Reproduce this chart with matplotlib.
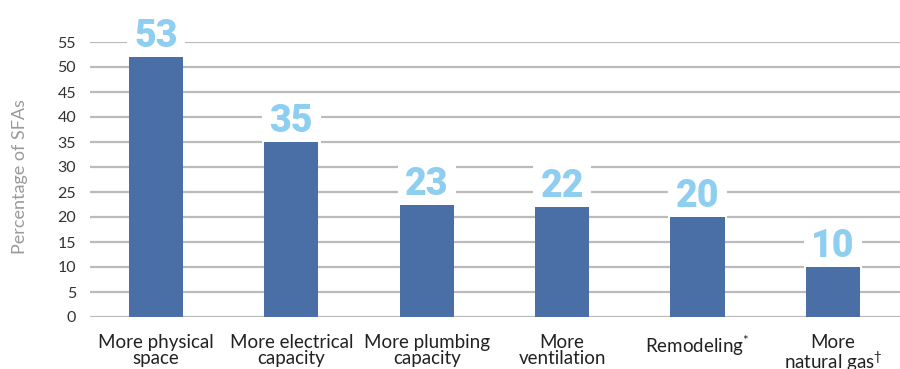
import matplotlib
matplotlib.use("Agg")
import matplotlib.pyplot as plt
import numpy as np

categories = ["More physical\nspace", "More electrical\ncapacity", "More plumbing\ncapacity",
              "More\nventilation", "Remodeling$^{*}$", "More\nnatural gas$^{\\dagger}$"]
bar_heights = [52, 35, 22.5, 22, 20, 10]
value_labels = ["53", "35", "23", "22", "20", "10"]
yticks = [0, 5, 10, 15, 20, 25, 30, 35, 40, 45, 50, 55]

plt.rcParams['mathtext.fontset'] = 'custom'
plt.rcParams['mathtext.rm'] = 'Lato'
plt.rcParams['mathtext.it'] = 'Lato'
plt.rcParams['mathtext.sf'] = 'Lato'
plt.rcParams['font.family'] = ['Lato', 'DejaVu Sans']

fig = plt.figure(figsize=(9, 3.69), dpi=100)
ax = fig.add_axes([0.1, 1 - 317/369, 0.9, (317 - 42)/369])

x = np.arange(len(categories))
ax.bar(x, bar_heights, width=0.4, color="#4A6EA6", zorder=3)

ax.set_ylim(0, 55)
ax.set_xlim(-0.487, 5.495)
ax.set_yticks(yticks)
ax.yaxis.grid(True, color="#BBBBBB", linewidth=1.6, zorder=0)
ax.set_axisbelow(True)
for s in ax.spines.values():
    s.set_visible(False)
ax.tick_params(axis='y', length=0, pad=10, labelsize=11.5, labelcolor="#333333")
ax.tick_params(axis='x', length=0, pad=12, labelsize=13.5, labelcolor="#222222")
ax.set_xticks(x)
ax.set_xticklabels(categories, linespacing=0.95, va='top')

for xi, h, lab in zip(x, bar_heights, value_labels):
    ax.annotate(lab, (xi, h), xytext=(0, 7), textcoords='offset points',
                ha='center', va='baseline', fontsize=27, fontweight='black',
                family=['Roboto', 'DejaVu Sans'], color="#8ECEF0", zorder=2.5,
                annotation_clip=False,
                bbox=dict(boxstyle='square,pad=0.2', fc='white', ec='none'))

fig.text(20/900, 1 - 177/369, "Percentage of SFAs", rotation=90, ha='center', va='center',
         fontsize=13, color="#9A9A9A")

fig.savefig("out.png", dpi=100)
